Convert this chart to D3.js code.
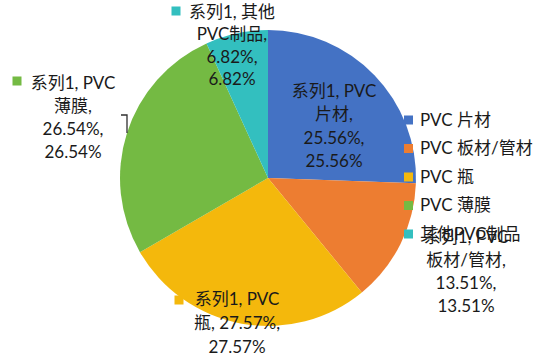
<!DOCTYPE html>
<html><head><meta charset="utf-8">
<script src="https://cdn.jsdelivr.net/npm/d3@7/dist/d3.min.js"></script>
<style>
html,body{margin:0;padding:0;background:#fff;}
svg text{font-family:Lato,"Noto Sans CJK SC",sans-serif;font-size:17px;fill:#1a1a1a;}
</style></head>
<body><svg id="c" width="544" height="358"></svg>
<script>
const categories = ["PVC 片材","PVC 板材/管材","PVC 瓶","PVC 薄膜","其他PVC制品"];
const values = [25.56, 13.51, 27.57, 26.54, 6.82];
const colors = ["#4472C4","#ED7D31","#F4B80C","#74BA43","#33BFBF"];
const seriesName = "系列1";
// data-label lines as shown (per slice)
const labelLines = [
  ["系列1, PVC","片材,","25.56%,","25.56%"],
  ["系列1, PVC","板材/管材,","13.51%,","13.51%"],
  ["系列1, PVC","瓶, 27.57%,","27.57%"],
  ["系列1, PVC","薄膜,","26.54%,","26.54%"],
  ["系列1, 其他","PVC制品,","6.82%,","6.82%"]
];

const svg = d3.select("#c");
const cx = 268, cy = 178, r = 148;
const g = svg.append("g").attr("transform",`translate(${cx},${cy})`);
const pie = d3.pie().sort(null).value(d=>d);
const arcs = pie(values);
const arc = d3.arc().innerRadius(0).outerRadius(r);
g.selectAll("path").data(arcs).enter().append("path")
  .attr("d",arc).attr("fill",(d,i)=>colors[i]);

// leader line for 薄膜 label
svg.append("polyline").attr("points","121,115 127,115 127,133")
  .attr("fill","none").attr("stroke","#303030").attr("stroke-width",1.3);

// label placements: [centerX, firstLineY, lineHeight, markerX(or null), markerY]
const pos = [
  [334, 91, 23.5, null, 0],
  [466, 237, 23, null, 0],
  [237, 299, 24, 179, 300],
  [73, 83, 23, 17, 81],
  [232, 12, 22.5, 176, 11]
];
arcs.forEach((a,i)=>{
  const p = pos[i];
  const t = svg.append("text").attr("text-anchor","middle");
  labelLines[i].forEach((ln,j)=>{
    t.append("tspan").attr("x",p[0]).attr("y",p[1]+j*p[2]).attr("dy","0.35em").text(ln);
  });
  if(p[3]!==null){
    svg.append("rect").attr("x",p[3]-4.5).attr("y",p[4]-4.5).attr("width",9).attr("height",9).attr("fill",colors[i]);
  }
});

// legend
const leg = svg.append("g");
categories.forEach((c,i)=>{
  const y = 120 + i*28.5;
  leg.append("rect").attr("x",404).attr("y",y-4.5).attr("width",9).attr("height",9).attr("fill",colors[i]);
  leg.append("text").attr("x",420).attr("y",y).attr("dy","0.35em").text(c);
});
</script></body></html>
